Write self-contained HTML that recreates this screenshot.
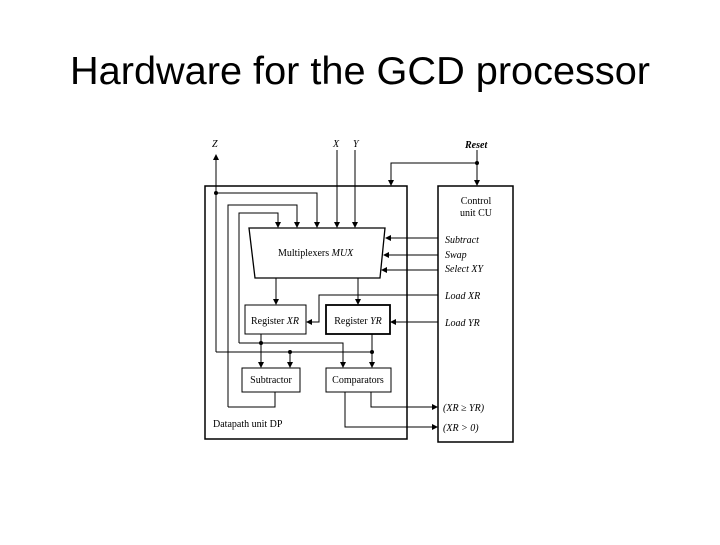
<!DOCTYPE html>
<html><head><meta charset="utf-8"><style>
body{margin:0;background:#fff;}
svg text{font-family:"Liberation Serif",serif;}
</style></head><body>
<svg width="720" height="540" viewBox="0 0 720 540" xmlns="http://www.w3.org/2000/svg">
<defs>
<marker id="a" markerWidth="6" markerHeight="6" refX="5" refY="3" orient="auto" markerUnits="userSpaceOnUse">
<path d="M0,0 L6,3 L0,6 z" fill="#000"/></marker>
</defs>
<text x="360" y="84" text-anchor="middle" font-size="39" textLength="580" lengthAdjust="spacingAndGlyphs" style="font-family:'Liberation Sans',sans-serif">Hardware for the GCD processor</text>
<g stroke="#000" fill="none" stroke-width="1">
<rect x="205" y="186" width="202" height="253" stroke-width="1.5"/>
<rect x="438" y="186" width="75" height="256" stroke-width="1.5"/>
<path d="M249,228 L385,228 L380,278 L255,278 Z" stroke-width="1.3"/>
<rect x="245" y="305" width="61" height="29"/>
<rect x="326" y="305" width="64" height="29" stroke-width="1.8"/>
<rect x="242" y="368" width="58" height="24"/>
<rect x="326" y="368" width="65" height="24"/>
<!-- Z -->
<path d="M216,352 L216,155" marker-end="url(#a)"/>
<path d="M216,193 L317,193 L317,227" marker-end="url(#a)"/>
<path d="M228,407 L228,205 L297,205 L297,227" marker-end="url(#a)"/>
<path d="M239,343 L239,213 L278,213 L278,227" marker-end="url(#a)"/>
<path d="M337,150 L337,227" marker-end="url(#a)"/>
<path d="M355,150 L355,227" marker-end="url(#a)"/>
<!-- reset -->
<path d="M477,150 L477,185" marker-end="url(#a)"/>
<path d="M477,163 L391,163 L391,185" marker-end="url(#a)"/>
<!-- control to mux -->
<path d="M438,238 L386,238" marker-end="url(#a)"/>
<path d="M438,255 L384,255" marker-end="url(#a)"/>
<path d="M438,270 L382,270" marker-end="url(#a)"/>
<!-- mux outs -->
<path d="M276,278 L276,304" marker-end="url(#a)"/>
<path d="M358,278 L358,304" marker-end="url(#a)"/>
<!-- load -->
<path d="M438,295 L319,295 L319,322 L307,322" marker-end="url(#a)"/>
<path d="M438,322 L391,322" marker-end="url(#a)"/>
<!-- XR out -->
<path d="M261,334 L261,367" marker-end="url(#a)"/>
<path d="M239,343 L343,343 L343,367" marker-end="url(#a)"/>
<path d="M216,352 L372,352"/>
<path d="M372,334 L372,367" marker-end="url(#a)"/>
<path d="M290,352 L290,367" marker-end="url(#a)"/>
<path d="M275,392 L275,407 L228,407"/>
<path d="M371,392 L371,407 L437,407" marker-end="url(#a)"/>
<path d="M345,392 L345,427 L437,427" marker-end="url(#a)"/>
</g>
<g fill="#000">
<circle cx="216" cy="193" r="2"/><circle cx="477" cy="163" r="2"/>
<circle cx="261" cy="343" r="2"/><circle cx="290" cy="352" r="2"/><circle cx="372" cy="352" r="2"/>
</g>
<g font-size="10">
<text x="212" y="147" font-style="italic">Z</text>
<text x="333" y="147" font-style="italic">X</text>
<text x="353" y="147" font-style="italic">Y</text>
<text x="465" y="148" font-style="italic" font-weight="bold">Reset</text>
<text x="476" y="204" text-anchor="middle">Control</text>
<text x="476" y="216" text-anchor="middle">unit CU</text>
<text x="445" y="243" font-style="italic">Subtract</text>
<text x="445" y="258" font-style="italic">Swap</text>
<text x="445" y="272" font-style="italic">Select XY</text>
<text x="445" y="299" font-style="italic">Load XR</text>
<text x="445" y="326" font-style="italic">Load YR</text>
<text x="443" y="411" font-style="italic">(XR ≥ YR)</text>
<text x="443" y="431" font-style="italic">(XR &gt; 0)</text>
<text x="278" y="256">Multiplexers <tspan font-style="italic">MUX</tspan></text>
<text x="275" y="324" text-anchor="middle">Register <tspan font-style="italic">XR</tspan></text>
<text x="358" y="324" text-anchor="middle">Register <tspan font-style="italic">YR</tspan></text>
<text x="271" y="383" text-anchor="middle">Subtractor</text>
<text x="358" y="383" text-anchor="middle">Comparators</text>
<text x="213" y="427">Datapath unit DP</text>
</g>
</svg>
</body></html>
